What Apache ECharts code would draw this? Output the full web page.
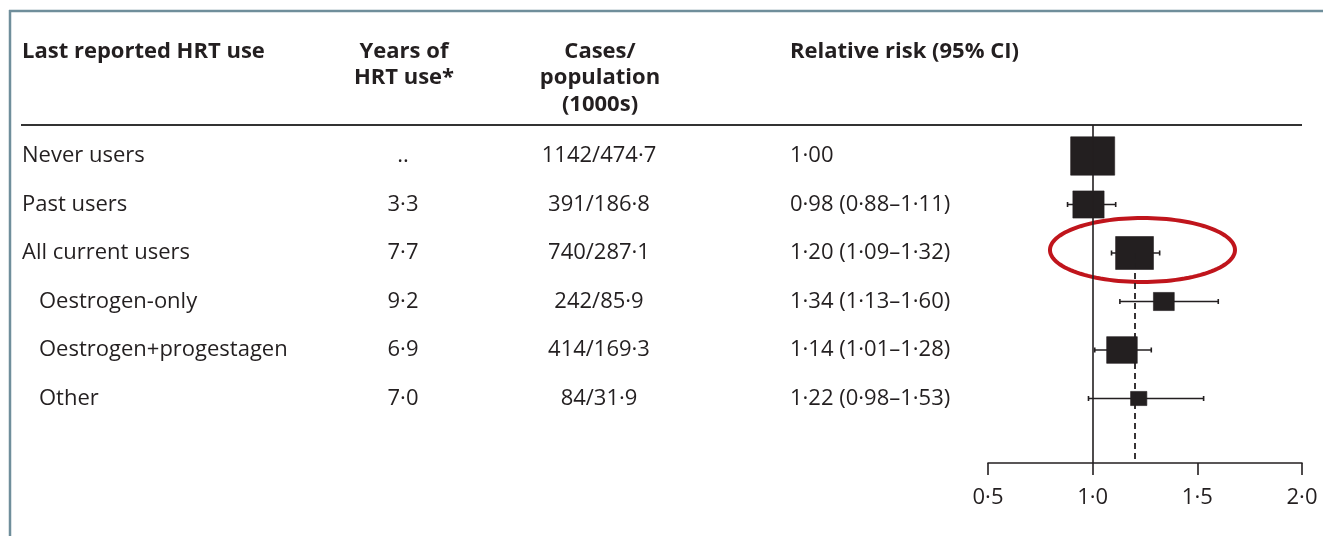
<!DOCTYPE html>
<html>
<head>
<meta charset="utf-8">
<script src="https://cdn.jsdelivr.net/npm/echarts@6/dist/echarts.min.js"></script>
<style>
  html, body { margin: 0; padding: 0; background: #ffffff; }
  #chart { width: 1323px; height: 536px; }
</style>
</head>
<body>
<div id="chart"></div>
<script>
// ---- Data: breast cancer relative risk by last reported HRT use ----
const groups = ['Never users', 'Past users', 'All current users', 'Oestrogen-only', 'Oestrogen+progestagen', 'Other'];
const isSubgroup = [false, false, false, true, true, true];
const yearsOfUse = [null, 3.3, 7.7, 9.2, 6.9, 7.0];
const cases = [1142, 391, 740, 242, 414, 84];
const populationThousands = [474.7, 186.8, 287.1, 85.9, 169.3, 31.9];
const relativeRisk = [1.00, 0.98, 1.20, 1.34, 1.14, 1.22];
const ciLower = [null, 0.88, 1.09, 1.13, 1.01, 0.98];
const ciUpper = [null, 1.11, 1.32, 1.60, 1.28, 1.53];
const referenceFloatedSE = 0.042;   // reference group (never users) has no CI
const xTicks = [0.5, 1.0, 1.5, 2.0];
const highlightedRow = 2;           // all current users

// ---- Layout ----
const INK = '#231f20';
const FONT = '"Open Sans", "DejaVu Sans", sans-serif';
const BODY_SIZE = 22;
const HEAD_SIZE = 22;
const GRID_TOP = 125, AXIS_Y = 463, FIRST_ROW_Y = 156, ROW_STEP = 48.5;
const yMin = -(FIRST_ROW_Y - GRID_TOP) / ROW_STEP;
const yMax = (AXIS_Y - FIRST_ROW_Y) / ROW_STEP;
const COL_GROUP_X = 22, COL_INDENT = 17, COL_YEARS_X = 403, COL_CASES_X = 599, COL_RR_X = 790;
const BOX_K = 1.85;                 // box side (px) per unit of 1/SE(log RR)

const dot = (v, d) => v.toFixed(d).replace('.', '\u00b7');
const seOf = i => ciLower[i] == null ? referenceFloatedSE : Math.log(ciUpper[i] / ciLower[i]) / (2 * 1.96);
const rrText = i => ciLower[i] == null
  ? dot(relativeRisk[i], 2)
  : dot(relativeRisk[i], 2) + ' (' + dot(ciLower[i], 2) + '\u2013' + dot(ciUpper[i], 2) + ')';

function txt(x, y, text, opts) {
  return {
    type: 'text', x: x, y: y, silent: true,
    style: Object.assign({
      text: text, fill: INK, fontFamily: FONT, fontSize: BODY_SIZE,
      align: 'left', verticalAlign: 'middle'
    }, opts || {})
  };
}

// Table columns, one row per group
function renderTable(params, api) {
  const i = params.dataIndex;
  const y = api.coord([xTicks[0], i])[1];
  return {
    type: 'group',
    children: [
      txt(COL_GROUP_X + (isSubgroup[i] ? COL_INDENT : 0), y, groups[i]),
      txt(COL_YEARS_X, y, yearsOfUse[i] == null ? '..' : dot(yearsOfUse[i], 1), { align: 'center' }),
      txt(COL_CASES_X, y, cases[i] + '/' + dot(populationThousands[i], 1), { align: 'center' }),
      txt(COL_RR_X, y, rrText(i))
    ]
  };
}

// Forest marks: CI line with end caps, and a square sized by precision
function renderForest(params, api) {
  const i = params.dataIndex;
  const c = api.coord([relativeRisk[i], i]);
  const side = BOX_K / seOf(i);
  const h = side * 0.87;
  const children = [];
  const lineStyle = { stroke: INK, lineWidth: 1.6 };
  if (ciLower[i] != null) {
    const a = api.coord([ciLower[i], i]);
    const b = api.coord([ciUpper[i], i]);
    children.push({ type: 'line', shape: { x1: a[0], y1: c[1], x2: b[0], y2: c[1] }, style: lineStyle });
    children.push({ type: 'line', shape: { x1: a[0], y1: c[1] - 2.5, x2: a[0], y2: c[1] + 2.5 }, style: lineStyle });
    children.push({ type: 'line', shape: { x1: b[0], y1: c[1] - 2.5, x2: b[0], y2: c[1] + 2.5 }, style: lineStyle });
  }
  children.push({
    type: 'rect',
    shape: { x: c[0] - side / 2, y: c[1] - h / 2, width: side, height: h },
    style: { fill: INK, stroke: INK, lineWidth: 0.6 }
  });
  return { type: 'group', children: children };
}

// Red ring around the highlighted row
function renderHighlight(params, api) {
  const c = api.coord([1.238, highlightedRow]);
  const cx = c[0], cy = c[1] - 3, rx = 92.5, ry = 32;
  const pts = [];
  for (let k = 0; k < 120; k++) {
    const t = k / 120 * Math.PI * 2;
    pts.push([cx + rx * Math.cos(t), cy + ry * Math.sin(t)]);
  }
  return {
    type: 'polygon',
    shape: { points: pts },
    style: { fill: 'none', stroke: '#c0151c', lineWidth: 4 }
  };
}

const chart = echarts.init(document.getElementById('chart'), null, { renderer: 'canvas' });

const headerGraphics = [
  // frame edges
  { type: 'line', shape: { x1: 10, y1: 10, x2: 10, y2: 536 }, style: { stroke: '#6f8e9b', lineWidth: 2.5 } },
  { type: 'line', shape: { x1: 9, y1: 11, x2: 1323, y2: 11 }, style: { stroke: '#6f8e9b', lineWidth: 2.5 } },
  // rule under the column headings
  { type: 'line', shape: { x1: 21, y1: GRID_TOP, x2: 1302, y2: GRID_TOP }, style: { stroke: '#333333', lineWidth: 2 } },
  txt(COL_GROUP_X, 52, 'Last reported HRT use', { fontWeight: 'bold', fontSize: HEAD_SIZE }),
  txt(COL_YEARS_X + 1, 52, 'Years of', { fontWeight: 'bold', fontSize: HEAD_SIZE, align: 'center' }),
  txt(COL_YEARS_X + 1, 78, 'HRT use*', { fontWeight: 'bold', fontSize: HEAD_SIZE, align: 'center' }),
  txt(COL_CASES_X + 1, 52, 'Cases/', { fontWeight: 'bold', fontSize: HEAD_SIZE, align: 'center' }),
  txt(COL_CASES_X + 1, 78, 'population', { fontWeight: 'bold', fontSize: HEAD_SIZE, align: 'center' }),
  txt(COL_CASES_X + 1, 105, '(1000s)', { fontWeight: 'bold', fontSize: HEAD_SIZE, align: 'center' }),
  txt(COL_RR_X, 52, 'Relative risk (95% CI)', { fontWeight: 'bold', fontSize: HEAD_SIZE })
];

chart.setOption({
  animation: false,
  backgroundColor: '#ffffff',
  textStyle: { fontFamily: FONT, color: INK },
  graphic: headerGraphics,
  grid: { left: 988, right: 21, top: GRID_TOP, bottom: 536 - AXIS_Y, containLabel: false },
  xAxis: {
    type: 'value',
    min: xTicks[0],
    max: xTicks[xTicks.length - 1],
    interval: xTicks[1] - xTicks[0],
    splitLine: { show: false },
    axisLine: { show: true, onZero: false, lineStyle: { color: INK, width: 1.6 } },
    axisTick: { show: true, inside: false, length: 12, lineStyle: { color: INK, width: 1.6 } },
    axisLabel: {
      margin: 24, color: INK, fontFamily: FONT, fontSize: 22,
      formatter: v => dot(v, 1)
    }
  },
  yAxis: { type: 'value', inverse: true, min: yMin, max: yMax, show: false },
  series: [
    {
      // reference line (RR = 1)
      type: 'line', data: [], z: 1, silent: true,
      markLine: {
        silent: true, symbol: 'none', label: { show: false },
        lineStyle: { color: INK, width: 1.6, type: 'solid' },
        data: [[{ coord: [1, yMin] }, { coord: [1, yMax] }]]
      }
    },
    {
      // pooled current-user line
      type: 'line', data: [], z: 1, silent: true,
      markLine: {
        silent: true, symbol: 'none', label: { show: false },
        lineStyle: { color: INK, width: 1.8, type: [6, 4] },
        data: [[{ coord: [relativeRisk[highlightedRow], highlightedRow] }, { coord: [relativeRisk[highlightedRow], yMax] }]]
      }
    },
    {
      type: 'custom', name: 'table', z: 2, silent: true, clip: false,
      renderItem: renderTable,
      data: groups.map((g, i) => [xTicks[0], i])
    },
    {
      type: 'custom', name: 'forest', z: 3, silent: true, clip: false,
      renderItem: renderForest,
      data: relativeRisk.map((rr, i) => [rr, i])
    },
    {
      type: 'custom', name: 'highlight', z: 4, silent: true, clip: false,
      renderItem: renderHighlight,
      data: [[relativeRisk[highlightedRow], highlightedRow]]
    }
  ]
});
</script>
</body>
</html>
